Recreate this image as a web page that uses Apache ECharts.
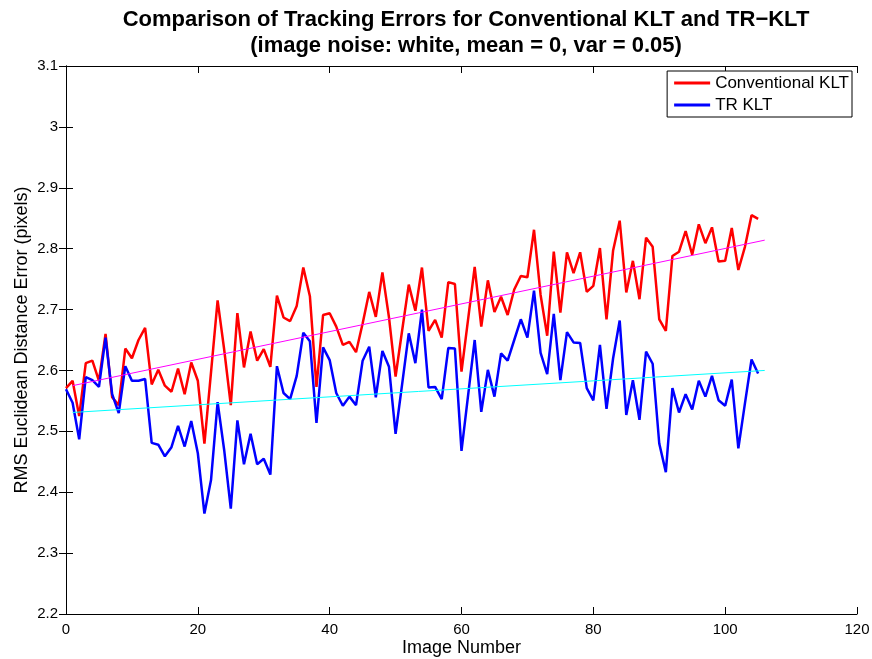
<!DOCTYPE html>
<html lang="en">
<head>
    <meta charset="UTF-8">
    <title>Tracking Errors</title>
    <script src="https://cdn.jsdelivr.net/npm/echarts@6/dist/echarts.min.js"></script>
    <style>
        html,body{margin:0;padding:0;background:#fff;}
        #chart1{width:872px;height:659px;}
    </style>
</head>
<body>
<div id="chart1"></div>

<script type="text/javascript">
    // image index 0..105
    var convKLT=[2.571,2.583,2.525,2.612,2.616,2.583,2.660,2.556,2.543,2.636,
        2.620,2.650,2.670,2.577,2.601,2.575,2.565,2.603,2.561,2.613,
        2.583,2.480,2.597,2.715,2.634,2.543,2.694,2.605,2.664,2.616,
        2.635,2.606,2.723,2.687,2.681,2.706,2.769,2.722,2.573,2.691,
        2.694,2.672,2.642,2.647,2.630,2.677,2.729,2.688,2.761,2.687,
        2.590,2.666,2.741,2.698,2.769,2.665,2.683,2.654,2.745,2.742,
        2.598,2.684,2.770,2.672,2.748,2.696,2.721,2.691,2.733,2.755,
        2.753,2.831,2.724,2.657,2.795,2.695,2.794,2.760,2.794,2.729,
        2.739,2.801,2.684,2.797,2.846,2.728,2.780,2.717,2.818,2.803,
        2.684,2.665,2.788,2.795,2.829,2.790,2.840,2.809,2.835,2.779,
        2.780,2.834,2.765,2.803,2.855,2.849];
    var trKLT=[2.569,2.547,2.487,2.589,2.584,2.573,2.654,2.561,2.530,2.607,
        2.583,2.583,2.586,2.481,2.478,2.459,2.474,2.509,2.475,2.517,
        2.464,2.365,2.420,2.548,2.469,2.373,2.518,2.446,2.496,2.446,
        2.455,2.429,2.607,2.563,2.553,2.591,2.662,2.648,2.514,2.638,
        2.617,2.563,2.542,2.557,2.543,2.616,2.639,2.556,2.632,2.606,
        2.496,2.578,2.661,2.612,2.700,2.572,2.573,2.553,2.637,2.636,
        2.468,2.559,2.650,2.532,2.601,2.557,2.628,2.616,2.650,2.684,
        2.654,2.731,2.629,2.594,2.693,2.584,2.663,2.646,2.645,2.571,
        2.551,2.642,2.537,2.620,2.682,2.527,2.584,2.519,2.631,2.611,
        2.480,2.433,2.571,2.531,2.561,2.536,2.583,2.557,2.591,2.551,
        2.542,2.585,2.472,2.546,2.618,2.595];
    // fitted trend lines (end points)
    var convTrend=[[1,2.575],[106,2.814]];
    var trTrend=[[1,2.531],[106,2.600]];
    var xTicks=[0,20,40,60,80,100,120];
    var yTicks=[2.2,2.3,2.4,2.5,2.6,2.7,2.8,2.9,3,3.1];

    function pairs(arr){
        return arr.map(function(v,i){return [i,v];});
    }

    var font='"Liberation Sans", Arial, Helvetica, sans-serif';
    var tickStyle={show:true,inside:true,length:7,lineStyle:{color:'#000',width:1}};

    var myChart1=echarts.init(document.getElementById('chart1'));
    myChart1.setOption({
        animation:false,
        backgroundColor:'#fff',
        title:{
            text:'Comparison of Tracking Errors for Conventional KLT and TR\u2212KLT\n(image noise: white, mean = 0, var = 0.05)',
            left:461,
            top:2,
            textAlign:'center',
            textStyle:{fontFamily:font,fontSize:22,fontWeight:'bold',color:'#000',lineHeight:26}
        },
        legend:{
            data:['Conventional KLT','TR KLT'],
            orient:'vertical',
            right:20,
            top:71,
            padding:[2,3,2,7],
            itemGap:2,
            itemWidth:36,
            itemHeight:3,
            icon:'rect',
            borderColor:'#000',
            borderWidth:1,
            borderRadius:0,
            backgroundColor:'#fff',
            textStyle:{fontFamily:font,fontSize:17,color:'#000',lineHeight:20}
        },
        grid:{left:66,right:15,top:66,bottom:45,outerBoundsMode:'none'},
        xAxis:[{
            type:'value',
            min:xTicks[0],
            max:xTicks[xTicks.length-1],
            interval:20,
            name:'Image Number',
            nameLocation:'middle',
            nameGap:25,
            nameMoveOverlap:false,
            nameTextStyle:{fontFamily:font,fontSize:18,color:'#000'},
            axisLine:{lineStyle:{color:'#000',width:1}},
            axisTick:tickStyle,
            axisLabel:{fontFamily:font,fontSize:15,color:'#000',margin:8},
            splitLine:{show:false}
        },{
            type:'value',
            position:'top',
            min:xTicks[0],
            max:xTicks[xTicks.length-1],
            interval:20,
            axisLine:{show:true,lineStyle:{color:'#000',width:1}},
            axisTick:tickStyle,
            axisLabel:{show:false},
            splitLine:{show:false}
        }],
        yAxis:[{
            type:'value',
            min:yTicks[0],
            max:yTicks[yTicks.length-1],
            interval:0.1,
            name:'RMS Euclidean Distance Error (pixels)',
            nameLocation:'middle',
            nameGap:35,
            nameMoveOverlap:false,
            nameTextStyle:{fontFamily:font,fontSize:18,color:'#000'},
            axisLine:{show:true,lineStyle:{color:'#000',width:1}},
            axisTick:tickStyle,
            axisLabel:{fontFamily:font,fontSize:15,color:'#000',margin:8,
                formatter:function(v){return String(Math.round(v*10)/10);}},
            splitLine:{show:false}
        },{
            type:'value',
            position:'right',
            min:yTicks[0],
            max:yTicks[yTicks.length-1],
            interval:0.1,
            axisLine:{show:true,lineStyle:{color:'#000',width:1}},
            axisTick:tickStyle,
            axisLabel:{show:false},
            splitLine:{show:false}
        }],
        series:[
            {
                name:'Conventional KLT',
                type:'line',
                data:pairs(convKLT),
                showSymbol:false,
                symbol:'none',
                lineStyle:{color:'#ff0000',width:2.5},
                itemStyle:{color:'#ff0000'},
                z:3
            },
            {
                name:'TR KLT',
                type:'line',
                data:pairs(trKLT),
                showSymbol:false,
                symbol:'none',
                lineStyle:{color:'#0000ff',width:2.5},
                itemStyle:{color:'#0000ff'},
                z:3
            },
            {
                name:'conv trend',
                type:'line',
                data:convTrend,
                symbol:'none',
                lineStyle:{color:'#ff00ff',width:1},
                z:4
            },
            {
                name:'tr trend',
                type:'line',
                data:trTrend,
                symbol:'none',
                lineStyle:{color:'#00ffff',width:1},
                z:4
            }
        ]
    });
</script>

</body>
</html>
